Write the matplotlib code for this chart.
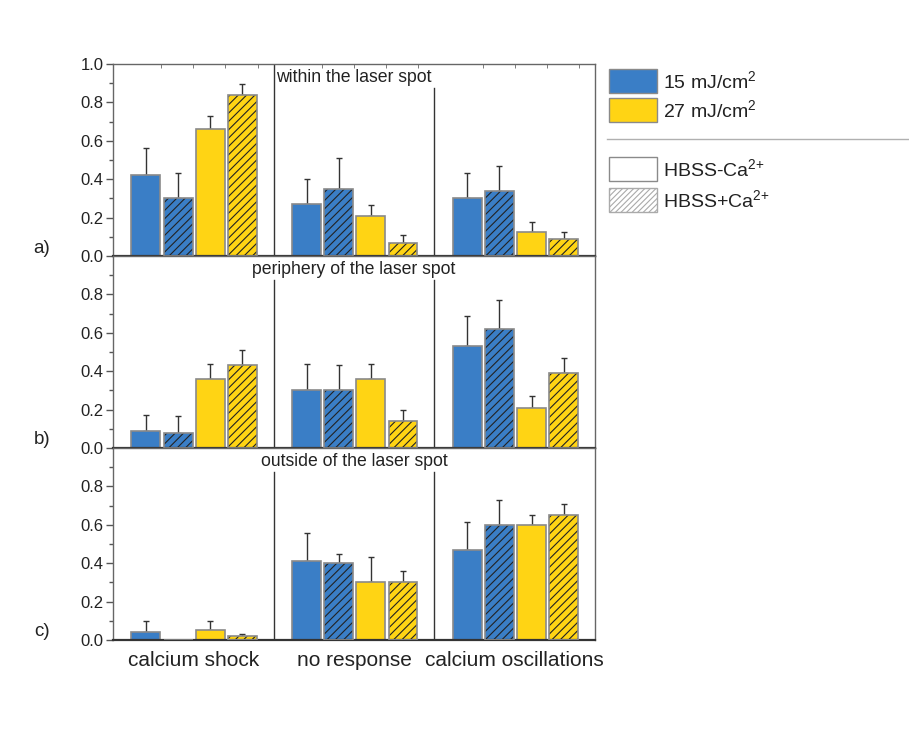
import matplotlib.pyplot as plt
import numpy as np
from matplotlib.patches import Rectangle
from matplotlib.lines import Line2D

plt.rcParams['font.family'] = ['Liberation Sans', 'DejaVu Sans']
plt.rcParams['mathtext.fontset'] = 'custom'
plt.rcParams['mathtext.rm'] = 'Liberation Sans'
plt.rcParams['mathtext.it'] = 'Liberation Sans'
plt.rcParams['hatch.linewidth'] = 0.8

categories = ['calcium shock', 'no response', 'calcium oscillations']
series = ['15 -Ca', '15 +Ca', '27 -Ca', '27 +Ca']
panel_titles = ['within the laser spot', 'periphery of the laser spot', 'outside of the laser spot']
panel_tags = ['a)', 'b)', 'c)']

# values: rows = series, columns = categories
within_vals = [[0.42, 0.27, 0.30], [0.30, 0.35, 0.34], [0.66, 0.21, 0.125], [0.84, 0.07, 0.087]]
within_err = [[0.14, 0.13, 0.13], [0.13, 0.16, 0.13], [0.07, 0.055, 0.05], [0.055, 0.04, 0.04]]

periph_vals = [[0.09, 0.30, 0.53], [0.08, 0.30, 0.62], [0.36, 0.36, 0.21], [0.43, 0.14, 0.39]]
periph_err = [[0.08, 0.14, 0.155], [0.085, 0.13, 0.15], [0.075, 0.075, 0.06], [0.08, 0.06, 0.08]]

outside_vals = [[0.04, 0.41, 0.47], [0.0, 0.40, 0.60], [0.05, 0.30, 0.60], [0.02, 0.30, 0.65]]
outside_err = [[0.06, 0.145, 0.145], [0.0, 0.05, 0.13], [0.05, 0.13, 0.05], [0.013, 0.06, 0.06]]

blue = '#3a7ec6'
yellow = '#ffd414'
colors = [blue, blue, yellow, yellow]
hatched = [False, True, False, True]

fig = plt.figure(figsize=(9.09, 7.38), dpi=100)
W, H = 909, 738

def fx(px):
    return px / W

def fy(px):
    return 1 - px / H

panels = [(within_vals, within_err), (periph_vals, periph_err), (outside_vals, outside_err)]
tops = [64, 256, 448]
x = np.arange(len(categories))
width = 0.18

for k, (vals, errs) in enumerate(panels):
    ax = fig.add_axes([fx(113), fy(tops[k] + 192), fx(595) - fx(113), 192 / H])
    for i in range(4):
        pos = x + (i - 1.5) * 0.2 + 0.005
        v = np.array(vals[i])
        e = np.array(errs[i])
        if hatched[i]:
            ax.bar(pos, v, width, color=colors[i], hatch='////', edgecolor='#222222',
                   linewidth=0, zorder=2)
            ax.bar(pos, v, width, fill=False, edgecolor='#8a8a8a', linewidth=1.2, zorder=3)
        else:
            ax.bar(pos, v, width, color=colors[i], edgecolor='#8a8a8a', linewidth=1.2, zorder=2)
        m = e > 0
        ax.errorbar(pos[m], v[m], yerr=[np.zeros(m.sum()), e[m]], fmt='none',
                    ecolor='#333333', elinewidth=1, capsize=2.5, capthick=1, zorder=1)

    ax.set_xlim(-0.5, 2.5)
    ax.set_ylim(0, 1.0)
    ax.set_yticks([0.0, 0.2, 0.4, 0.6, 0.8, 1.0] if k == 0 else [0.0, 0.2, 0.4, 0.6, 0.8])
    ax.set_yticks(np.arange(0.1, 1.0, 0.2), minor=True)
    ax.tick_params(axis='y', which='major', direction='out', length=5, width=1, pad=2,
                   color='#555555', labelsize=12, labelcolor='#222222')
    ax.tick_params(axis='y', which='minor', direction='out', length=3, width=1, color='#555555')
    for s in ['left', 'right', 'top']:
        ax.spines[s].set_color('#666666')
        ax.spines[s].set_linewidth(1)
    ax.spines['bottom'].set_color('#333333')
    ax.spines['bottom'].set_linewidth(1.6)

    if k == 2:
        ax.set_xticks(x)
        ax.set_xticklabels(categories, fontsize=15, color='#222222')
        ax.tick_params(axis='x', length=0, pad=8)
    else:
        ax.set_xticks([])
        if k == 0:
            ax.set_xticks(np.concatenate([c + np.array([-0.2, 0.0, 0.2, 0.4]) for c in x]), minor=True)
            ax.tick_params(axis='x', which='minor', direction='in', length=3, top=True,
                           bottom=False, color='#666666')

    # group separators
    ax.plot([0.5, 0.5], [0, 1.0 if k == 0 else 0.875], color='#333333', lw=1, zorder=1)
    ax.plot([1.5, 1.5], [0, 0.875], color='#333333', lw=1, zorder=1)

    ax.text(1.0, 0.93, panel_titles[k], ha='center', va='center', fontsize=12.7, color='#222222')
    fig.text(fx(42), fy(tops[k] + 184), panel_tags[k], ha='center', va='center',
             fontsize=13.5, color='#222222')

# legend
leg_items = [
    (69, blue, None, '15 mJ/cm$^2$'),
    (98, yellow, None, '27 mJ/cm$^2$'),
    (157, 'white', None, 'HBSS-Ca$^{2{+}}$'),
    (188, 'white', '//////', 'HBSS+Ca$^{2{+}}$'),
]
for y0, fc, hatch, label in leg_items:
    if hatch:
        fig.add_artist(Rectangle((fx(609), fy(y0 + 24)), 48 / W, 24 / H, transform=fig.transFigure,
                                 facecolor='white', edgecolor='#aaaaaa', hatch=hatch, linewidth=1))
    else:
        fig.add_artist(Rectangle((fx(609), fy(y0 + 24)), 48 / W, 24 / H, transform=fig.transFigure,
                                 facecolor=fc, edgecolor='#8a8a8a', linewidth=1))
    fig.text(fx(663), fy(y0 + 12), label, ha='left', va='center', fontsize=14, color='#222222')

fig.add_artist(Line2D([fx(607), fx(909)], [fy(139), fy(139)], transform=fig.transFigure,
                      color='#b0b0b0', lw=1))

fig.savefig('out.png', dpi=100, facecolor='white')
